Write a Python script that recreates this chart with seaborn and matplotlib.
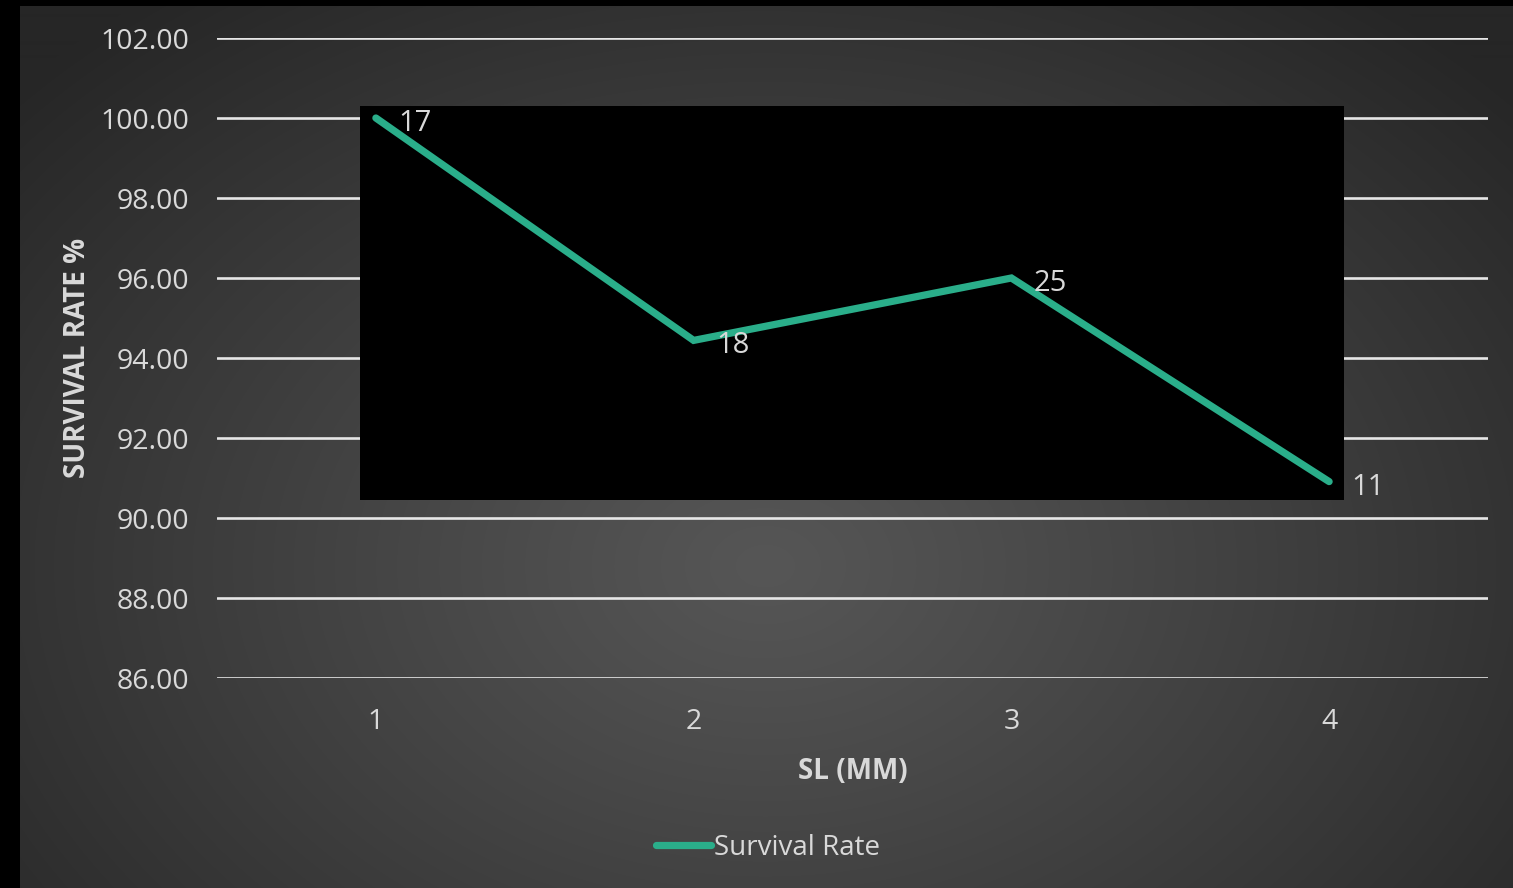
import numpy as np
import pandas as pd
import matplotlib
matplotlib.use("Agg")
import matplotlib.pyplot as plt
from matplotlib.patches import Rectangle
import seaborn as sns

# Survival by standard length class; labels give sample size per class
sl_class = [1, 2, 3, 4]
survival_rate = [100.00, 94.44, 96.00, 90.91]
sample_size = [17, 18, 25, 11]
y_ticks = [86, 88, 90, 92, 94, 96, 98, 100, 102]

df = pd.DataFrame({"SL": sl_class, "Survival Rate": survival_rate})

sns.set_theme(style="dark")
plt.rcParams["font.family"] = ["Open Sans", "DejaVu Sans"]

TEXT = "#d9d9d9"
LINE = "#2aae8a"

W, H = 1513, 888
fig = plt.figure(figsize=(W / 100, H / 100), dpi=100)
fig.patch.set_facecolor("black")

# Radial grey backdrop with a thin black frame on the left and top
bg = fig.add_axes([20 / W, 0, 1 - 20 / W, 1 - 6 / H])
bg.set_axis_off()
gy, gx = np.mgrid[0:H - 6, 0:W - 20]
cx, cy = 745, 560
r = np.sqrt(((gx - cx) / 1000) ** 2 + ((gy - cy) / 720) ** 2)
shade = np.clip(0x56 - (0x56 - 0x26) * r ** 1.1, 0x26, 0x56) / 255
bg.imshow(np.dstack([shade] * 3), aspect="auto", interpolation="bilinear")
bg.set_zorder(0)

ax = fig.add_axes([217 / W, 1 - 678 / H, (1488 - 217) / W, (678 - 38) / H])
ax.set_zorder(1)
ax.patch.set_alpha(0)

ax.set_xlim(0.5, 4.5)
ax.set_ylim(86, 102)
ax.set_yticks(y_ticks)
ax.set_yticklabels([f"{v:.2f}" for v in y_ticks])
ax.set_xticks(sl_class)
ax.set_xticklabels([str(v) for v in sl_class])
ax.grid(False)
for v in y_ticks:
    ax.axhline(v, color="#e6e6e6", lw=1.9, zorder=1)

# Black plot-area panel around the series extent
x0, x1 = min(sl_class) - 0.05, max(sl_class) + 0.047
y0, y1 = min(survival_rate) - 0.46, max(survival_rate) + 0.3
ax.add_patch(Rectangle((x0, y0), x1 - x0, y1 - y0, facecolor="black",
                       edgecolor="none", zorder=2))

sns.lineplot(data=df, x="SL", y="Survival Rate", ax=ax, color=LINE,
             linewidth=5.2, label="Survival Rate", zorder=3,
             solid_capstyle="round", solid_joinstyle="miter")

for xv, yv, n in zip(sl_class, survival_rate, sample_size):
    ax.annotate(str(n), (xv, yv), xytext=(16, -4), textcoords="offset points",
                ha="left", va="center", color=TEXT, fontsize=21, zorder=4)

for s in ax.spines.values():
    s.set_visible(False)
ax.tick_params(axis="both", length=0, colors=TEXT, labelsize=20.5)
ax.tick_params(axis="y", pad=20)
ax.tick_params(axis="x", pad=21.5)

ax.set_xlabel("SL (MM)", color=TEXT, fontsize=20, fontweight="bold", labelpad=15)
ax.set_ylabel("SURVIVAL RATE %", color=TEXT, fontsize=20, fontweight="bold",
              labelpad=6)

leg = fig.legend(*ax.get_legend_handles_labels(), loc="center",
                 bbox_to_anchor=(768 / W, 1 - 848 / H), frameon=False,
                 fontsize=20, handlelength=2.0, handletextpad=0.1)
ax.get_legend().remove()
for t in leg.get_texts():
    t.set_color(TEXT)
for h in leg.get_lines():
    h.set_solid_capstyle("round")

fig.savefig("out.png", dpi=100, facecolor=fig.get_facecolor())
